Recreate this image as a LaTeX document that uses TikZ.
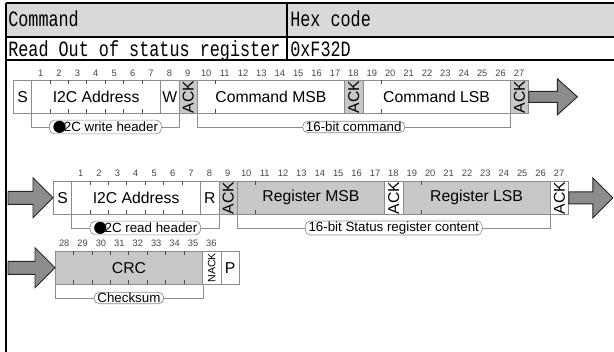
\documentclass[tikz,border=0pt]{standalone}
\usepackage{fontspec}
\setmainfont{Liberation Sans}
\newfontfamily\tabfont{Liberation Mono}
\newfontfamily\dotfont{DejaVu Sans}
\usepackage{graphicx}
\usetikzlibrary{calc}

\definecolor{headgray}{RGB}{217,217,217}
\definecolor{linegray}{RGB}{140,140,140}
\definecolor{slavegray}{RGB}{200,200,200}
\definecolor{arrowgray}{RGB}{140,140,140}
\definecolor{numgray}{RGB}{70,70,70}

\newcommand{\tabcell}[1]{\scalebox{1}[1.3]{\tabfont\fontsize{12.6}{14}\selectfont #1}}
\newcommand{\vlabel}[1]{\rotatebox{90}{#1}}
\newcommand{\blobtwo}{{\dotfont\fontsize{12}{12}\selectfont ●}\kern-2pt 2C}

\tikzset{
  field/.style={draw=linegray, line width=0.5pt, inner sep=0pt, minimum height=24.75pt,
    anchor=north west, font=\fontsize{11.8}{12}\selectfont},
  bitnum/.style={font=\fontsize{7}{7}\selectfont, text=numgray, inner sep=0pt},
  tick/.style={line width=0.4pt, black!70},
  bracket/.style={draw=linegray, line width=0.5pt},
  tag/.style={draw=linegray, fill=white, rounded corners=4pt, inner xsep=2.5pt, inner ysep=0.6pt,
    font=\fontsize{10}{10}\selectfont, line width=0.5pt},
  bigarrow/.style={draw=black!85, fill=arrowgray, line width=0.7pt, line join=miter},
  tabline/.style={line width=1.5pt},
}

\begin{document}
\begin{tikzpicture}[x=0.75pt, y=-0.75pt]
  \useasboundingbox (0,0) rectangle (614,352);
  % table on top
  \fill[headgray] (6,3) rectangle (614,37);
  \draw[tabline] (6,3) -- (614,3);
  \draw[tabline] (6,37) -- (614,37);
  \draw[tabline] (6,60) -- (614,60);
  \draw[tabline] (287,3) -- (287,60);
  \draw[tabline] (6,3) -- (6,352);
  \node[anchor=base west, inner sep=0pt] (cmdhead) at (8,27) {\tabcell{Command}};
  \node[anchor=base west, inner sep=0pt] (hexhead) at (290,27) {\tabcell{Hex code}};
  \node[anchor=base west, inner sep=0pt] (cmdname) at (8,57) {\tabcell{Read Out of status register}};
  \node[anchor=base west, inner sep=0pt] (hexval) at (290,57) {\tabcell{0xF32D}};

  % write: command
  \foreach \a/\b/\c/\t/\n in {0/0/white/S/s, 1/7/white/I2C Address/adr, 8/8/white/W/w,
      9/9/slavegray/\vlabel{ACK}/acka, 10/17/white/Command MSB/msb,
      18/18/slavegray/\vlabel{ACK}/ackb, 19/26/white/Command LSB/lsb,
      27/27/slavegray/\vlabel{ACK}/ackc}{
    \pgfmathsetmacro\fieldwd{(\b-\a+1)*13.8}
    \node[field, fill=\c, minimum width=\fieldwd pt] (w\n) at (13+\a*18.4,80) {\t};
  }
  \foreach \k in {1,...,27}
    \node[bitnum] (wn\k) at (13+\k*18.4+9.2,73) {\k};
  \foreach \k in {2,...,7,11,...,17,20,...,26}{
    \draw[tick] (13+\k*18.4,80) -- ++(0,4);
    \draw[tick] (13+\k*18.4,113) -- ++(0,-4);
  }
  \coordinate (wbrk) at (0,127);
  \draw[bracket] (wadr.south west) |- (ww.south east |- wbrk) -- (ww.south east);
  \draw[bracket] (wmsb.south west) |- (wlsb.south east |- wbrk) -- (wlsb.south east);
  \node[tag] (whdr) at ($(wadr.south west |- wbrk)!0.5!(ww.south east |- wbrk)$) {\blobtwo{} write header};
  \node[tag] (wcmd) at ($(wmsb.south west |- wbrk)!0.5!(wlsb.south east |- wbrk)$) {16-bit command};
  \draw[bigarrow] (wackc.east) ++(0,-5.5) -- ++(28.5,0) -- ++(0,-12.5) -- ++(20,18)
    -- ++(-20,18) -- ++(0,-12.5) -- ++(-28.5,0) -- cycle;

  % read: register content
  \foreach \a/\b/\c/\t/\n in {0/0/white/S/s, 1/7/white/I2C Address/adr, 8/8/white/R/r,
      9/9/slavegray/\vlabel{ACK}/acka, 10/17/slavegray/Register MSB/msb,
      18/18/white/\vlabel{ACK}/ackb, 19/26/slavegray/Register LSB/lsb,
      27/27/white/\vlabel{ACK}/ackc}{
    \pgfmathsetmacro\fieldwd{(\b-\a+1)*13.8}
    \node[field, fill=\c, minimum width=\fieldwd pt] (r\n) at (53+\a*18.4,181) {\t};
  }
  \foreach \k in {1,...,27}
    \node[bitnum] (rn\k) at (53+\k*18.4+9.2,173) {\k};
  \foreach \k in {2,...,7,11,...,17,20,...,26}{
    \draw[tick] (53+\k*18.4,181) -- ++(0,4);
    \draw[tick] (53+\k*18.4,214) -- ++(0,-4);
  }
  \coordinate (rbrk) at (0,228);
  \draw[bracket] (radr.south west) |- (rr.south east |- rbrk) -- (rr.south east);
  \draw[bracket] (rmsb.south west) |- (rlsb.south east |- rbrk) -- (rlsb.south east);
  \node[tag] (rhdr) at ($(radr.south west |- rbrk)!0.5!(rr.south east |- rbrk)$) {\blobtwo{} read header};
  \node[tag] (rdata) at ($(rmsb.south west |- rbrk)!0.5!(rlsb.south east |- rbrk)$) {16-bit Status register content};
  \draw[bigarrow] (rs.west) -- ++(-20,-20) -- ++(0,13.5) -- ++(-25,0) -- ++(0,13)
    -- ++(25,0) -- ++(0,13.5) -- cycle;
  \draw[bigarrow] (rackc.east) ++(0,-6) -- ++(24,0) -- ++(0,-14) -- ++(20,20)
    -- ++(-20,20) -- ++(0,-14) -- ++(-24,0) -- cycle;

  % checksum
  \foreach \a/\b/\c/\t/\n in {28/35/slavegray/CRC/crc,
      36/36/white/\vlabel{\fontsize{8}{8}\selectfont NACK}/nack, 37/37/white/P/p}{
    \pgfmathsetmacro\fieldwd{(\b-\a+1)*13.8}
    \node[field, fill=\c, minimum width=\fieldwd pt] (c\n) at (-460.2+\a*18.4,251) {\t};
  }
  \foreach \k in {28,...,36}
    \node[bitnum] (cn\k) at (-460.2+\k*18.4+9.2,243) {\k};
  \foreach \k in {29,...,35}{
    \draw[tick] (-460.2+\k*18.4,251) -- ++(0,4);
    \draw[tick] (-460.2+\k*18.4,284) -- ++(0,-4);
  }
  \coordinate (cbrk) at (0,298);
  \draw[bracket] (ccrc.south west) |- (ccrc.south east |- cbrk) -- (ccrc.south east);
  \node[tag] (csum) at ($(ccrc.south west |- cbrk)!0.5!(ccrc.south east |- cbrk)$) {Checksum};
  \draw[bigarrow] (ccrc.west) -- ++(-20,-20) -- ++(0,13.5) -- ++(-27,0) -- ++(0,13)
    -- ++(27,0) -- ++(0,13.5) -- cycle;
\end{tikzpicture}
\end{document}
